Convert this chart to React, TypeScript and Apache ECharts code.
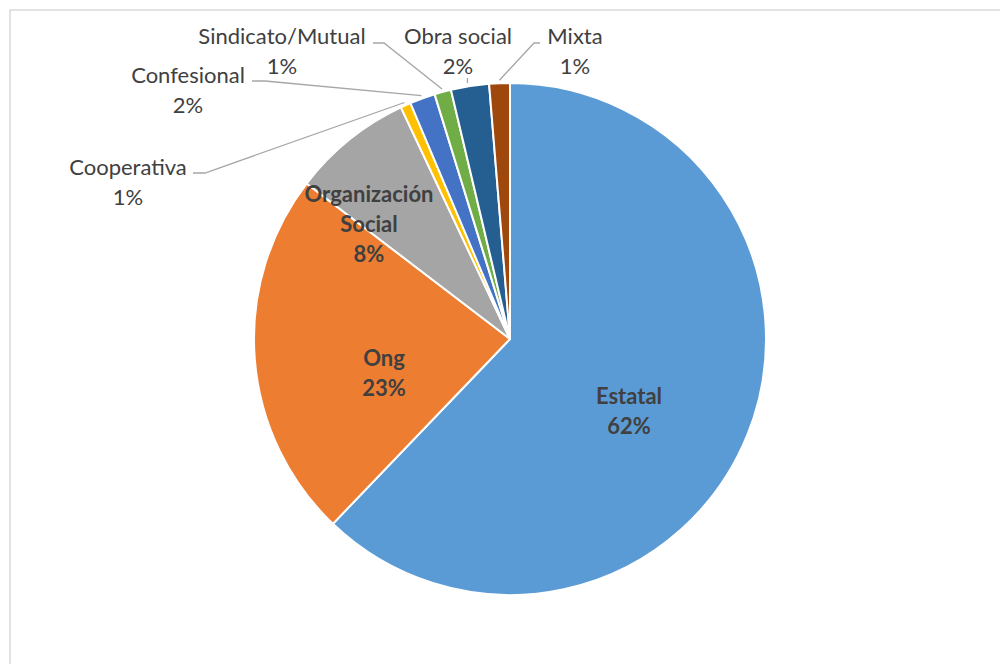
import React, { useEffect, useRef } from "react";
import * as echarts from "echarts";

const categories = [
  "Estatal",
  "Ong",
  "Organización Social",
  "Cooperativa",
  "Confesional",
  "Sindicato/Mutual",
  "Obra social",
  "Mixta",
];
const labelNames = [
  "Estatal",
  "Ong",
  "Organización\nSocial",
  "Cooperativa",
  "Confesional",
  "Sindicato/Mutual",
  "Obra social",
  "Mixta",
];
const values = [62.1, 23.2, 7.6, 0.65, 1.6, 1.05, 2.4, 1.3];
const colors = ["#5B9BD5", "#ED7D31", "#A5A5A5", "#FFC000", "#4472C4", "#70AD47", "#255E91", "#9E480E"];
const insideLabels = [true, true, true, false, false, false, false, false];

// label layout (label block centre and leader-line elbow points), in px
const CX = 510;
const CY = 339;
const R = 256;
const labelPos: Record<string, { x: number; y: number; elbow?: number[][] }> = {
  Estatal: { x: 629, y: 410 },
  Ong: { x: 384, y: 372 },
  "Organización Social": { x: 369, y: 223 },
  Cooperativa: { x: 128, y: 181, elbow: [[193, 173], [205, 173]] },
  Confesional: { x: 188, y: 89, elbow: [[252, 81], [265, 81]] },
  "Sindicato/Mutual": { x: 282, y: 50, elbow: [[373, 43], [384, 43]] },
  "Obra social": { x: 458, y: 50, elbow: [] },
  Mixta: { x: 575, y: 50, elbow: [[540, 43], [534, 43]] },
};

function anchorFor(i: number): number[] {
  const total = values.reduce((a, b) => a + b, 0);
  let before = 0;
  for (let k = 0; k < i; k++) before += values[k];
  const mid = ((before + values[i] / 2) / total) * Math.PI * 2;
  const r = R + 3;
  return [CX + r * Math.sin(mid), CY - r * Math.cos(mid)];
}

export default function App() {
  const ref = useRef<HTMLDivElement>(null);
  useEffect(() => {
    if (!ref.current) return;
    const chart = echarts.init(ref.current, undefined, { renderer: "svg" });
    const data = categories.map((name, i) => ({
      name,
      value: values[i],
      itemStyle: { color: colors[i] },
      label: insideLabels[i]
        ? { position: "inside", fontWeight: "bold", color: "#404040" }
        : { position: "outside", fontWeight: "normal", color: "#404040" },
      labelLine: { show: !insideLabels[i] },
    }));
    chart.setOption({
      animation: false,
      graphic: [
        {
          type: "rect",
          shape: { x: 10, y: 10, width: 1100, height: 800 },
          style: { fill: "none", stroke: "#D9D9D9", lineWidth: 1.5 },
          silent: true,
        },
      ],
      series: [
        {
          type: "pie",
          center: [CX, CY],
          radius: R,
          startAngle: 90,
          clockwise: true,
          avoidLabelOverlap: false,
          silent: true,
          itemStyle: { borderColor: "#FFFFFF", borderWidth: 2 },
          label: {
            fontFamily: "Lato",
            fontSize: 22,
            lineHeight: 30,
            color: "#404040",
            align: "center",
            formatter: (p: any) => labelNames[p.dataIndex] + "\n" + Math.round(p.percent) + "%",
          },
          labelLine: {
            lineStyle: { color: "#A6A6A6", width: 1.3 },
            smooth: false,
          },
          labelLayout: (params: any) => {
            const i = params.dataIndex;
            const pos = labelPos[categories[i]];
            if (!pos) return {};
            const out: any = { x: pos.x, y: pos.y, align: "center", verticalAlign: "middle" };
            if (pos.elbow) {
              const a = anchorFor(i);
              if (pos.elbow.length === 0) {
                out.labelLinePoints = [[a[0] - 2, 78], [a[0] - 2, 78], [a[0] - 2, a[1]]];
              } else {
                out.labelLinePoints = [pos.elbow[0], pos.elbow[1], a];
              }
            }
            return out;
          },
          data,
        },
      ],
    });
    return () => chart.dispose();
  }, []);
  return (
    <div
      ref={ref}
      style={{ position: "absolute", left: 0, top: 0, width: 1000, height: 664, background: "#FFFFFF" }}
    />
  );
}
